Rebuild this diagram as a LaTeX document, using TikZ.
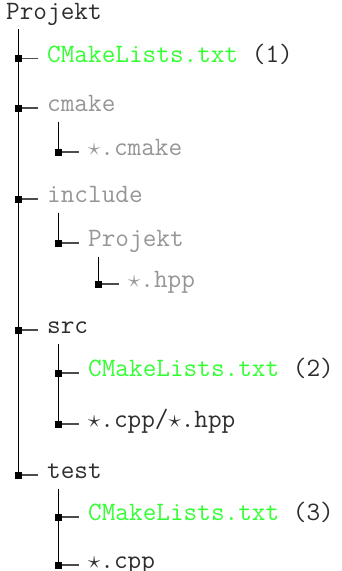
\documentclass[tikz,border=0pt]{standalone}
\usepackage{tikz}

\definecolor{filetext}{RGB}{45,45,45}
\definecolor{dirgray}{RGB}{150,150,150}
\definecolor{cmgreen}{RGB}{51,255,51}

\tikzset{
  entry/.style={anchor=mid west, inner sep=0pt, yshift=-1.5pt, text=filetext,
    font=\ttfamily\fontsize{26.5}{30}\selectfont},
  knot/.style={fill=black, inner sep=0pt, minimum size=7pt},
  stub/.style={draw=black!70, line width=1.2pt, shorten >=9pt},
  trunk/.style={draw=black, line width=1.3pt},
}

\begin{document}
\begin{tikzpicture}[x=1pt,y=-1pt]
    \useasboundingbox (0,0) rectangle (341,571);
    % Root
    \node[entry] (root) at (6,15.5) {Projekt};
    % Top level
    \node[knot] (k-cml1) at (18.5,58.5) {};
    \node[entry,text=cmgreen] (cml1) at (47,58.5) {CMakeLists.txt \textcolor{filetext}{(1)}};
    \node[knot] (k-cmake) at (18.5,108) {};
    \node[entry,text=dirgray] (cmake) at (47,108) {cmake};
    \node[knot] (k-include) at (18.5,199) {};
    \node[entry,text=dirgray] (include) at (47,199) {include};
    \node[knot] (k-src) at (18.5,330) {};
    \node[entry] (src) at (47,330) {src};
    \node[knot] (k-test) at (18.5,475) {};
    \node[entry] (test) at (47,475) {test};
    % cmake
    \node[knot] (k-cmfiles) at (58.5,152) {};
    \node[entry,text=dirgray] (cmfiles) at (88,152) {$\star$.cmake};
    % include
    \node[knot] (k-incproj) at (58.5,243) {};
    \node[entry,text=dirgray] (incproj) at (88,243) {Projekt};
    \node[knot] (k-hpp) at (98.5,284) {};
    \node[entry,text=dirgray] (hpp) at (128,284) {$\star$.hpp};
    % src
    \node[knot] (k-cml2) at (58.5,373) {};
    \node[entry,text=cmgreen] (cml2) at (88,373) {CMakeLists.txt \textcolor{filetext}{(2)}};
    \node[knot] (k-srcfiles) at (58.5,424) {};
    \node[entry] (srcfiles) at (88,424) {$\star$.cpp/$\star$.hpp};
    % test
    \node[knot] (k-cml3) at (58.5,517) {};
    \node[entry,text=cmgreen] (cml3) at (88,517) {CMakeLists.txt \textcolor{filetext}{(3)}};
    \node[knot] (k-testfiles) at (58.5,565) {};
    \node[entry] (testfiles) at (88,565) {$\star$.cpp};
    % Trunks
    \draw[trunk] ([yshift=-10pt]root.base -| k-cml1.center) -- (k-test.center);
    \draw[trunk] ([yshift=-10pt]cmake.base -| k-cmfiles.center) -- (k-cmfiles.center);
    \draw[trunk] ([yshift=-10pt]include.base -| k-incproj.center) -- (k-incproj.center);
    \draw[trunk] ([yshift=-10pt]incproj.base -| k-hpp.center) -- (k-hpp.center);
    \draw[trunk] ([yshift=-10pt]src.base -| k-cml2.center) -- (k-srcfiles.center);
    \draw[trunk] ([yshift=-10pt]test.base -| k-cml3.center) -- (k-testfiles.center);
    % Stubs
    \foreach \e in {cml1, cmake, include, src, test, cmfiles, incproj, hpp,
        cml2, srcfiles, cml3, testfiles}
      \draw[stub] (k-\e.east) -- (k-\e.east -| \e.west);
\end{tikzpicture}
\end{document}
